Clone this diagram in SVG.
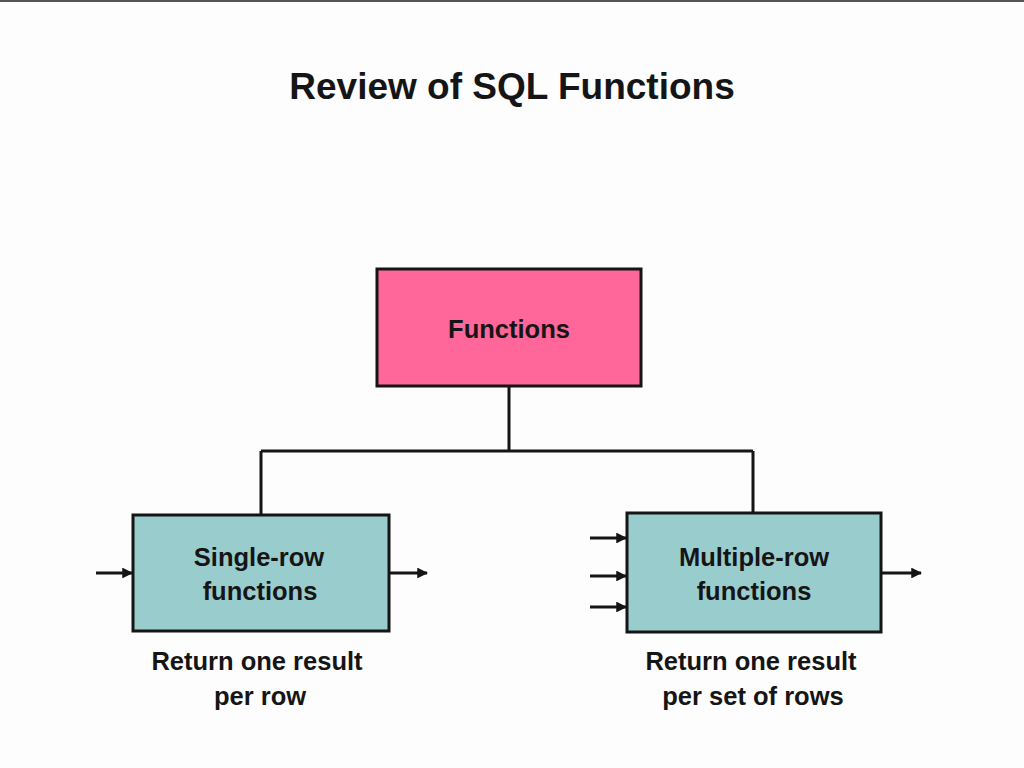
<svg xmlns="http://www.w3.org/2000/svg" width="1024" height="768" viewBox="0 0 1024 768">
<defs>
<style>
text{font-family:"Liberation Sans",Arial,sans-serif;font-weight:bold;fill:#151515;text-anchor:middle}
.t{font-size:25.5px}
.box{stroke:#151515;stroke-width:3}
.ln{stroke:#151515;stroke-width:3;fill:none}
</style>
<marker id="ah" viewBox="0 0 10 10" refX="9" refY="5" markerWidth="3.6" markerHeight="3.6" orient="auto" markerUnits="strokeWidth">
<path d="M0,0 L10,5 L0,10 z" fill="#151515"/>
</marker>
</defs>
<rect width="1024" height="768" fill="#fdfdfd"/>
<rect x="0" y="0" width="1024" height="2" fill="#555"/>
<text x="512" y="99" style="font-size:37px">Review of SQL Functions</text>
<g id="connectors">
<path class="ln" d="M509,387 V451 M261,451 H753 M261,451 V515 M753,451 V513"/>
<line class="ln" x1="96" y1="573" x2="132" y2="573" marker-end="url(#ah)"/>
<line class="ln" x1="390" y1="573" x2="427" y2="573" marker-end="url(#ah)"/>
<line class="ln" x1="590" y1="538" x2="626" y2="538" marker-end="url(#ah)"/>
<line class="ln" x1="590" y1="576" x2="626" y2="576" marker-end="url(#ah)"/>
<line class="ln" x1="590" y1="607" x2="626" y2="607" marker-end="url(#ah)"/>
<line class="ln" x1="882" y1="573" x2="921" y2="573" marker-end="url(#ah)"/>
</g>
<g id="functions">
<rect class="box" x="377" y="269" width="264" height="117" fill="#ff6699"/>
<text class="t" x="509" y="338">Functions</text>
</g>
<g id="single-row">
<rect class="box" x="133" y="515" width="256" height="116" fill="#99cccc"/>
<text class="t" x="259" y="566">Single-row</text>
<text class="t" x="260" y="600">functions</text>
<text class="t" x="257" y="670">Return one result</text>
<text class="t" x="260" y="705">per row</text>
</g>
<g id="multiple-row">
<rect class="box" x="627" y="513" width="254" height="119" fill="#99cccc"/>
<text class="t" x="754" y="566">Multiple-row</text>
<text class="t" x="754" y="600">functions</text>
<text class="t" x="751" y="670">Return one result</text>
<text class="t" x="753" y="705">per set of rows</text>
</g>
</svg>
